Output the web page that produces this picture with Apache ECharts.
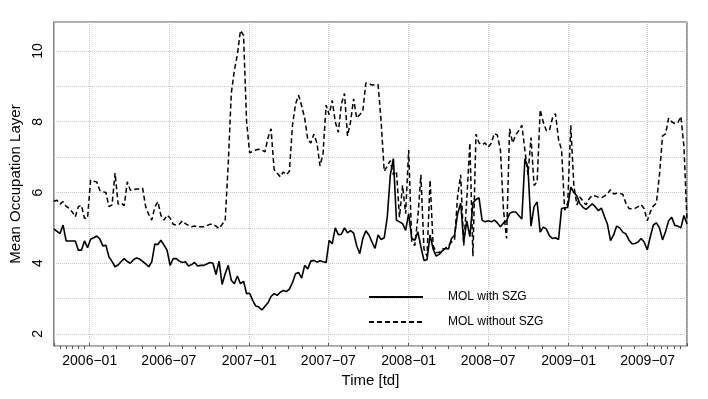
<!DOCTYPE html>
<html>
<head>
<meta charset="utf-8">
<script src="https://cdn.jsdelivr.net/npm/echarts@6/dist/echarts.min.js"></script>
<style>
  html, body { margin: 0; padding: 0; background: #fff; }
  #chart { width: 708px; height: 399px; }
</style>
</head>
<body>
<div id="chart"></div>
<script>
  // weekly observations, first one on 2005-10-11
  const startDate = [2005, 9, 11];
  const seriesNames = ['MOL with SZG', 'MOL without SZG'];
  const yTickLabels = [2, 4, 6, 8, 10];

  const withSZG = [
    4.97, 4.90, 4.84, 5.08, 4.63, 4.63, 4.63, 4.63, 4.37, 4.37, 4.63, 4.44, 4.68, 4.72, 4.77, 4.69,
    4.49, 4.51, 4.18, 4.05, 3.90, 3.95, 4.05, 4.13, 4.05, 4.00, 4.10, 4.15, 4.12, 4.05, 3.98, 3.90,
    4.04, 4.54, 4.53, 4.65, 4.51, 4.37, 3.94, 4.13, 4.13, 4.06, 4.02, 4.04, 3.92, 3.96, 4.02, 3.92,
    3.94, 3.94, 3.98, 4.02, 4.00, 3.68, 4.06, 3.40, 3.70, 3.94, 3.52, 3.42, 3.64, 3.42, 3.49, 3.14,
    3.15, 2.95, 2.79, 2.76, 2.68, 2.78, 2.88, 3.06, 3.14, 3.09, 3.18, 3.23, 3.20, 3.27, 3.45, 3.70,
    3.74, 3.58, 3.94, 3.84, 4.06, 4.08, 4.03, 4.07, 4.04, 4.02, 4.65, 4.55, 5.00, 4.81, 4.82, 5.00,
    4.86, 4.92, 4.85, 4.50, 4.27, 4.70, 4.92, 4.80, 4.60, 4.42, 4.80, 4.67, 4.72, 5.30, 6.50, 6.96,
    5.22, 5.17, 5.12, 4.93, 5.40, 4.70, 4.65, 4.89, 4.46, 4.08, 4.10, 4.80,
    4.40, 4.20, 4.25, 4.35, 4.42, 4.40, 4.70, 4.79, 5.40, 5.70, 4.60, 5.20, 4.75, 5.70, 5.80, 5.85,
    5.22, 5.17, 5.20, 5.17, 5.22, 5.14, 5.03, 5.14, 5.20, 5.41, 5.45,
    5.45, 5.35, 5.25, 6.95, 6.70, 5.05, 5.60, 5.73, 4.88, 5.02, 4.97, 4.78, 4.70, 4.72, 4.67, 5.55,
    5.57, 5.58, 6.15, 6.00, 5.90, 5.68, 5.58, 5.52, 5.60, 5.68, 5.60, 5.49,
    5.56, 5.32, 5.10, 4.64, 4.80, 5.05, 5.00, 4.88, 4.83, 4.66, 4.55, 4.56, 4.60, 4.70, 4.60, 4.38,
    4.75, 5.08, 5.14, 5.00, 4.66, 4.90, 5.20, 5.30, 5.07, 5.05, 5.00, 5.35, 5.11
  ];

  const withoutSZG = [
    5.75, 5.78, 5.67, 5.74, 5.61, 5.55, 5.45, 5.31, 5.60, 5.64, 5.27, 5.27, 6.35, 6.32, 6.30, 6.06,
    6.02, 6.00, 5.60, 5.65, 6.55, 5.67, 5.70, 5.63, 6.30, 6.06, 6.08, 6.10, 6.10, 6.12, 5.60, 5.38,
    5.22, 5.59, 5.74, 5.35, 5.22, 5.36, 5.28, 5.10, 5.08, 5.10, 5.20, 5.12, 5.07, 5.03, 5.05, 5.03,
    5.03, 5.03, 5.06, 5.10, 5.10, 5.05, 4.98,
    5.10, 5.20, 6.80, 8.80, 9.45, 9.90, 10.58, 10.45, 8.00,
    7.12, 7.16, 7.20, 7.22, 7.20, 7.15, 7.55, 7.80, 6.65, 6.55, 6.44, 6.58, 6.50, 6.60, 7.90, 8.50,
    8.75, 8.45, 8.10, 7.50, 7.40, 7.65, 7.40, 6.75, 7.10, 8.47, 8.20, 8.60, 8.00, 7.70, 8.50, 8.80,
    7.60, 8.00, 8.65, 8.10, 8.20, 8.30, 9.10, 9.07, 9.04, 9.05, 9.05, 8.00, 6.60, 6.75, 6.90, 6.50,
    6.60, 5.30, 6.20, 5.40, 7.20, 4.60, 4.50, 5.30, 6.50, 4.40, 4.20, 6.35,
    4.50, 4.30, 4.30, 4.40, 4.42, 4.50, 4.60, 4.65, 5.90, 6.50, 4.50, 5.80, 7.40, 4.20, 7.65, 7.40,
    7.35, 7.40, 7.28, 7.39, 7.67, 7.62, 7.20, 5.50, 4.70, 7.80, 7.40,
    7.63, 7.75, 7.90, 7.20, 6.50, 7.55, 6.20, 6.30, 8.34, 7.99, 7.75, 7.75, 8.10, 8.23, 7.50, 7.20,
    5.50, 5.70, 7.90, 6.20, 5.65, 5.87, 5.75, 5.65, 5.82, 5.92, 5.90, 5.87,
    5.85, 5.90, 5.96, 6.08, 5.96, 5.98, 5.97, 5.95, 5.70, 5.55, 5.54, 5.55, 5.60, 5.66, 5.54, 5.20,
    5.45, 5.62, 5.70, 6.50, 7.60, 7.66, 8.10, 8.00, 7.95, 7.97, 8.15, 7.30, 5.21
  ];

  const WEEK = 7 * 24 * 3600 * 1000;
  const t0 = new Date(startDate[0], startDate[1], startDate[2]).getTime();
  const tEnd = t0 + (withSZG.length - 1) * WEEK;

  function toPairs(vals) {
    return vals.map(function (v, i) { return [t0 + i * WEEK, v]; });
  }
  function pad(n) { return n < 10 ? '0' + n : '' + n; }

  const font = 'Liberation Sans, Arial, Helvetica, sans-serif';
  const gridLine = { show: true, lineStyle: { color: '#c4c4c4', type: 'dotted', width: 1 } };

  let myChart = echarts.init(document.getElementById('chart'));
  myChart.setOption({
    animation: false,
    backgroundColor: '#fff',
    textStyle: { fontFamily: font, color: '#000' },
    grid: {
      left: 53, right: 21, top: 22, bottom: 53,
      show: true, borderColor: '#555', borderWidth: 1.2, backgroundColor: 'transparent'
    },
    legend: {
      orient: 'vertical',
      left: 368, top: 291,
      padding: 0,
      itemWidth: 54, itemHeight: 14, itemGap: 13,
      itemStyle: { opacity: 0 },
      textStyle: { fontSize: 12, color: '#000', fontFamily: font, padding: [0, 0, 0, 20] },
      data: seriesNames
    },
    xAxis: {
      type: 'time',
      min: t0, max: tEnd,
      minInterval: 180 * 24 * 3600 * 1000,
      maxInterval: 184 * 24 * 3600 * 1000,
      name: 'Time [td]',
      nameLocation: 'middle',
      nameGap: 27,
      nameTextStyle: { fontSize: 15, color: '#000', fontFamily: font },
      axisLine: { show: false },
      axisTick: { show: true, inside: true, length: 3, lineStyle: { color: '#555' } },
      minorTick: { show: true, splitNumber: 6, length: -3, lineStyle: { color: '#555' } },
      axisLabel: {
        fontSize: 14, color: '#000', margin: 8, fontFamily: font,
        showMinLabel: false, showMaxLabel: false,
        formatter: function (v) {
          const d = new Date(v);
          return d.getFullYear() + '\u2212' + pad(d.getMonth() + 1);
        }
      },
      splitLine: gridLine
    },
    yAxis: {
      type: 'value',
      min: 1.66, max: 10.82,
      splitNumber: 9,
      name: 'Mean Occupation Layer',
      nameLocation: 'middle',
      nameRotate: 90,
      nameGap: 28,
      nameTextStyle: { fontSize: 15, color: '#000', fontFamily: font },
      axisLine: { show: false },
      axisTick: { show: false },
      axisLabel: {
        rotate: 90, fontSize: 14, color: '#000', margin: 9, fontFamily: font,
        showMinLabel: false, showMaxLabel: false,
        formatter: function (v) { return yTickLabels.indexOf(v) >= 0 ? String(v) : ''; }
      },
      splitLine: gridLine
    },
    series: [
      {
        name: seriesNames[0],
        type: 'line',
        symbol: 'none',
        data: toPairs(withSZG),
        lineStyle: { color: '#000', width: 1.6, type: 'solid' },
        itemStyle: { color: '#000' }
      },
      {
        name: seriesNames[1],
        type: 'line',
        symbol: 'none',
        data: toPairs(withoutSZG),
        lineStyle: { color: '#000', width: 1.5, type: [5, 3] },
        itemStyle: { color: '#000' }
      }
    ]
  });
</script>
</body>
</html>
